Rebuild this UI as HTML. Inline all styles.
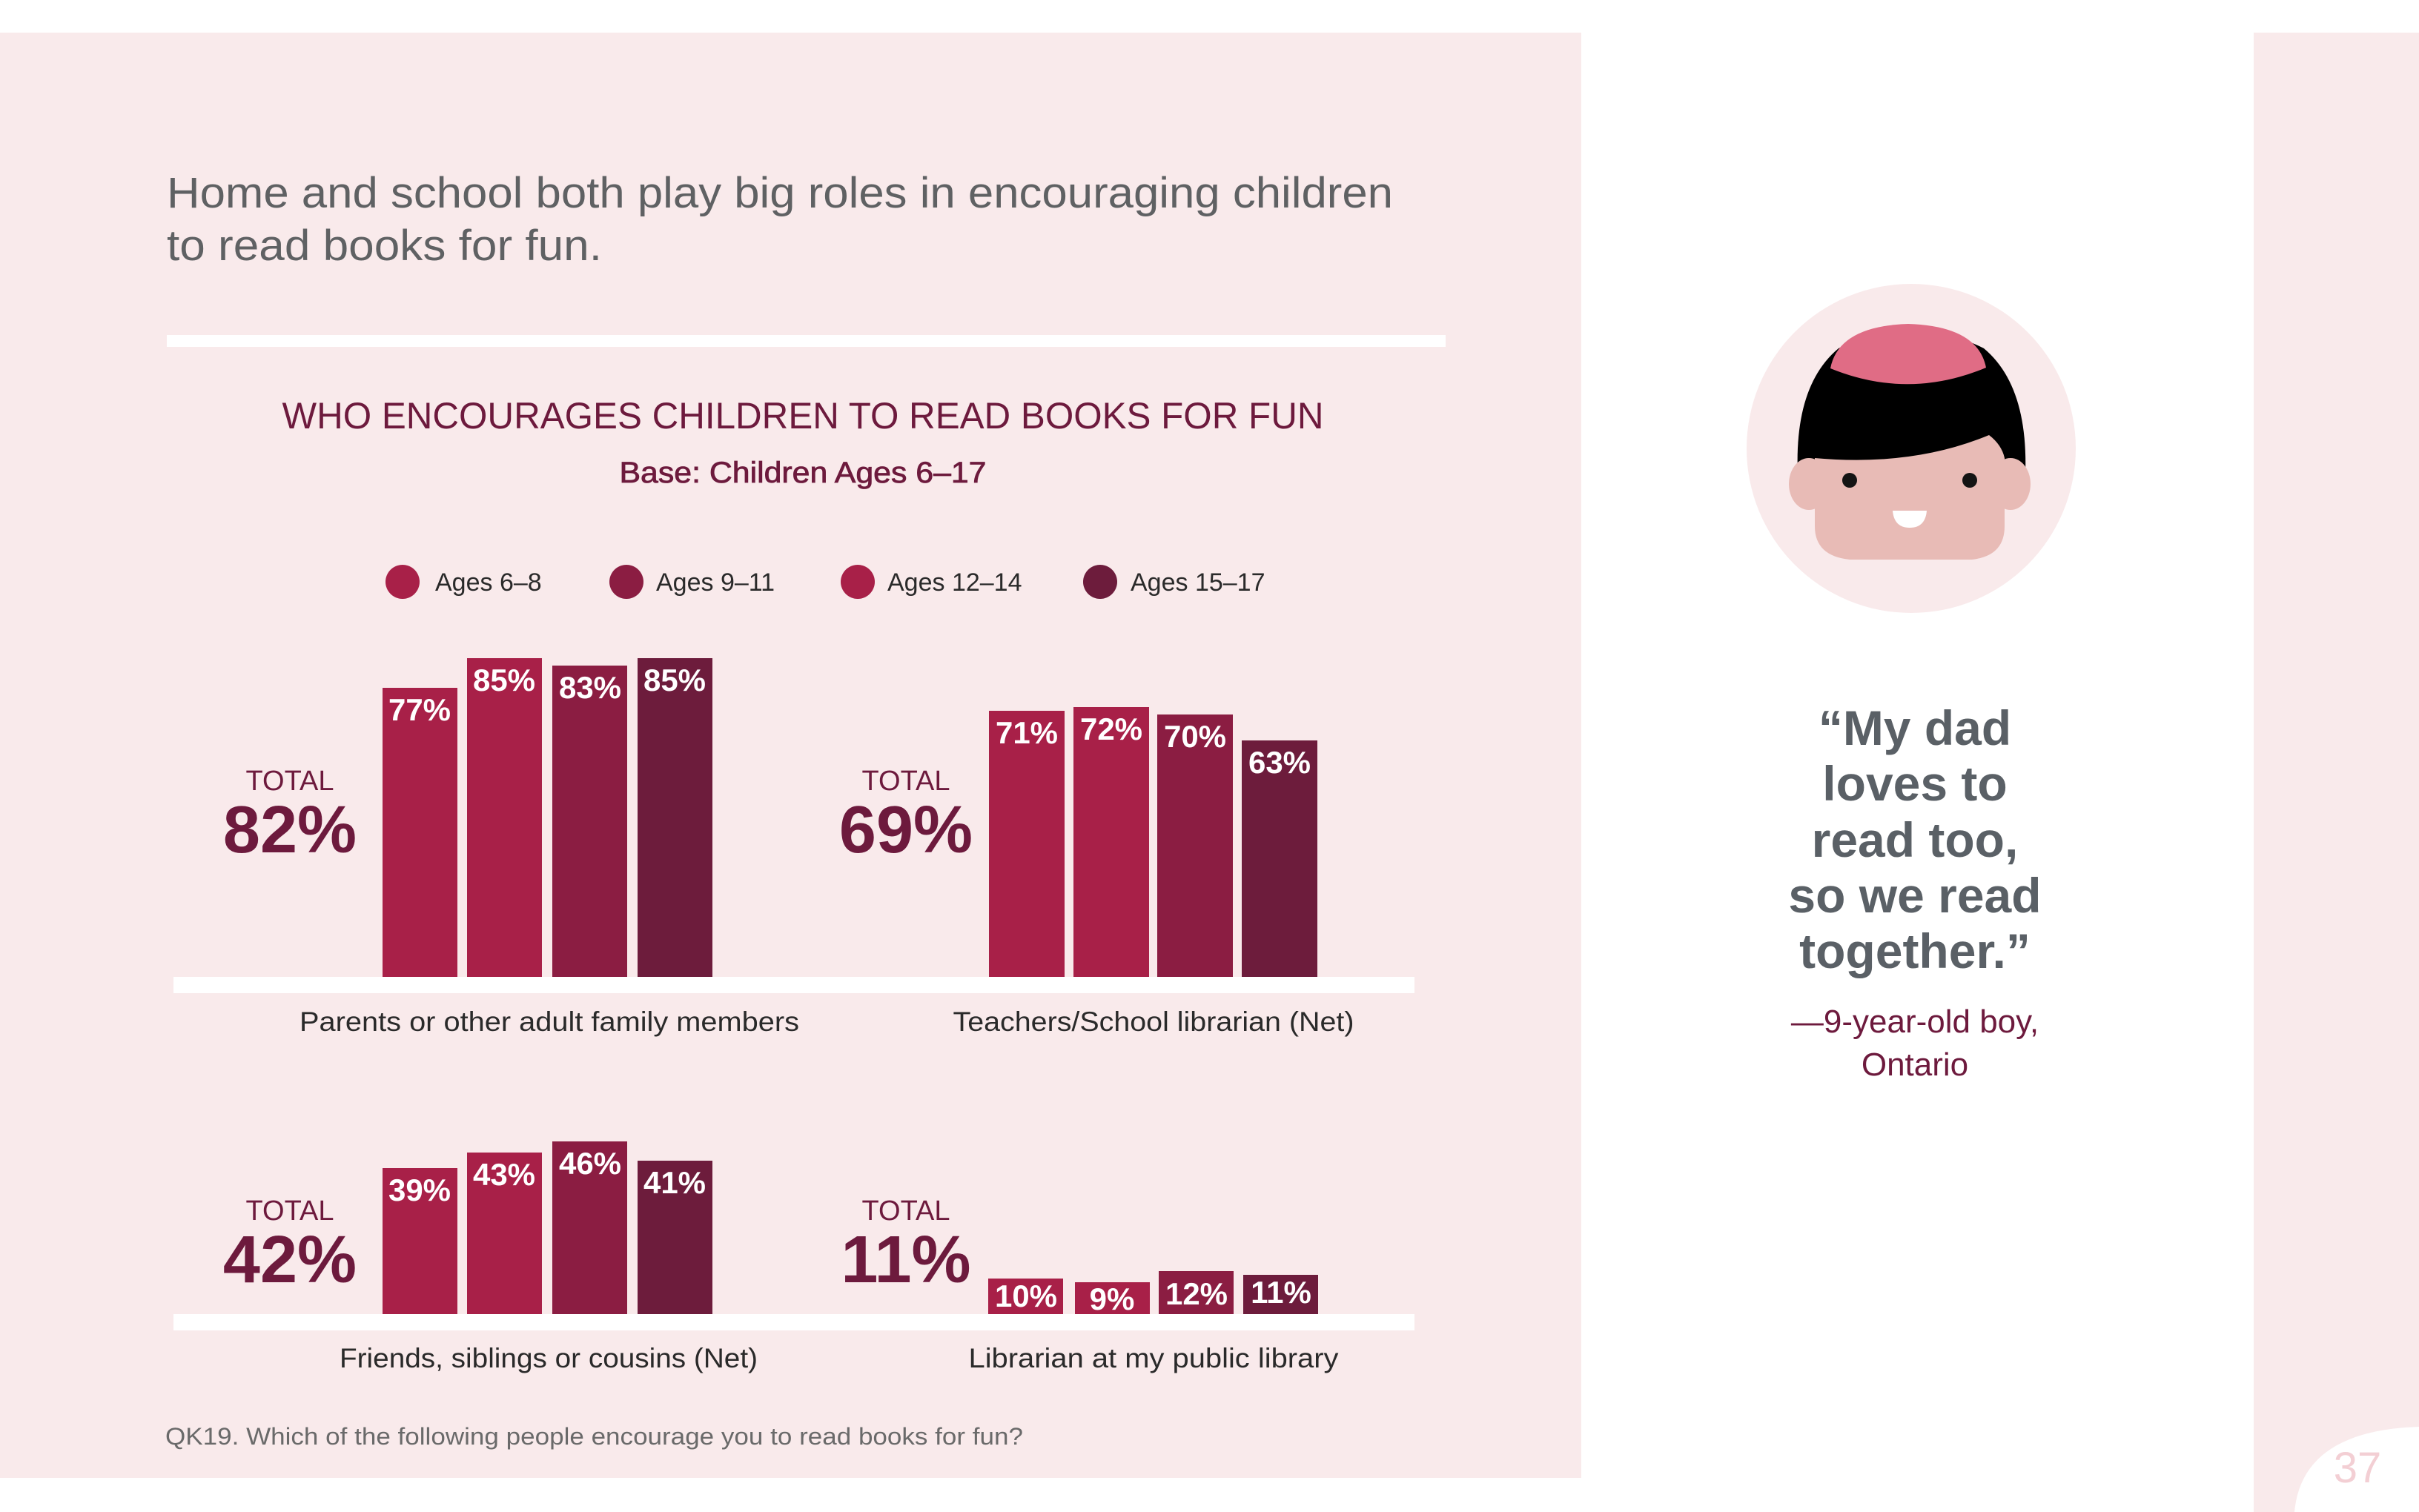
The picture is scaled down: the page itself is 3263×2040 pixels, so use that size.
<!DOCTYPE html>
<html><head><meta charset="utf-8"><style>
html,body{margin:0;padding:0;background:#fff}
svg{display:block}
text{font-family:"Liberation Sans",sans-serif}
</style></head><body>
<svg width="3263" height="2040" viewBox="0 0 3263 2040" xmlns="http://www.w3.org/2000/svg">
<rect width="3263" height="2040" fill="#fff"/>
<rect x="0" y="44" width="2133" height="1950" fill="#f9eaeb"/>
<rect x="3040" y="44" width="223" height="1996" fill="#f9eaeb"/>
<path d="M3095 2040 Q3105 1930 3263 1925 L3263 2040 Z" fill="#fff"/>
<text x="3180" y="2000" font-size="58" fill="#f3cfd4" text-anchor="middle">37</text>

<text x="225" y="280" font-size="58" fill="#5f6163" textLength="1654" lengthAdjust="spacingAndGlyphs">Home and school both play big roles in encouraging children</text>
<text x="225" y="351" font-size="58" fill="#5f6163" textLength="587" lengthAdjust="spacingAndGlyphs">to read books for fun.</text>
<rect x="225" y="452" width="1725" height="16" fill="#fff"/>

<text x="1083" y="578" font-size="50" fill="#6d1a3d" text-anchor="middle" textLength="1405" lengthAdjust="spacingAndGlyphs">WHO ENCOURAGES CHILDREN TO READ BOOKS FOR FUN</text>
<text x="1083" y="651" font-size="40" fill="#6d1a3d" text-anchor="middle" stroke="#6d1a3d" stroke-width="0.8" textLength="495" lengthAdjust="spacingAndGlyphs">Base: Children Ages 6–17</text>

<circle cx="543" cy="785" r="23" fill="#a82048"/><text x="587" y="797" font-size="34" fill="#2a2a2a">Ages 6–8</text>
<circle cx="845" cy="785" r="23" fill="#8b1d42"/><text x="885" y="797" font-size="34" fill="#2a2a2a">Ages 9–11</text>
<circle cx="1157" cy="785" r="23" fill="#a82048"/><text x="1197" y="797" font-size="34" fill="#2a2a2a">Ages 12–14</text>
<circle cx="1484" cy="785" r="23" fill="#6d1c3c"/><text x="1525" y="797" font-size="34" fill="#2a2a2a">Ages 15–17</text>

<rect x="234" y="1318" width="1674" height="22" fill="#fff"/>
<rect x="516" y="928" width="101" height="390" fill="#a82048"/>
<rect x="630" y="888" width="101" height="430" fill="#a82048"/>
<rect x="745" y="898" width="101" height="420" fill="#8b1d42"/>
<rect x="860" y="888" width="101" height="430" fill="#6d1c3c"/>
<g font-size="42" font-weight="bold" fill="#fff" text-anchor="middle">
<text x="566" y="972">77%</text><text x="680" y="932">85%</text><text x="796" y="942">83%</text><text x="910" y="932">85%</text>
</g>
<text x="391" y="1066" font-size="38" fill="#6d1a3d" text-anchor="middle">TOTAL</text>
<text x="391" y="1150" font-size="90" font-weight="bold" fill="#6d1a3d" text-anchor="middle">82%</text>
<text x="741" y="1391" font-size="37" fill="#2a2a2a" text-anchor="middle" textLength="674" lengthAdjust="spacingAndGlyphs">Parents or other adult family members</text>

<rect x="1334" y="959" width="102" height="359" fill="#a82048"/>
<rect x="1448" y="954" width="102" height="364" fill="#a82048"/>
<rect x="1561" y="964" width="102" height="354" fill="#8b1d42"/>
<rect x="1675" y="999" width="102" height="319" fill="#6d1c3c"/>
<g font-size="42" font-weight="bold" fill="#fff" text-anchor="middle">
<text x="1385" y="1003">71%</text><text x="1499" y="998">72%</text><text x="1612" y="1008">70%</text><text x="1726" y="1043">63%</text>
</g>
<text x="1222" y="1066" font-size="38" fill="#6d1a3d" text-anchor="middle">TOTAL</text>
<text x="1222" y="1150" font-size="90" font-weight="bold" fill="#6d1a3d" text-anchor="middle">69%</text>
<text x="1556" y="1391" font-size="37" fill="#2a2a2a" text-anchor="middle" textLength="541" lengthAdjust="spacingAndGlyphs">Teachers/School librarian (Net)</text>

<rect x="234" y="1773" width="1674" height="22" fill="#fff"/>
<rect x="516" y="1576" width="101" height="197" fill="#a82048"/>
<rect x="630" y="1555" width="101" height="218" fill="#a82048"/>
<rect x="745" y="1540" width="101" height="233" fill="#8b1d42"/>
<rect x="860" y="1566" width="101" height="207" fill="#6d1c3c"/>
<g font-size="42" font-weight="bold" fill="#fff" text-anchor="middle">
<text x="566" y="1620">39%</text><text x="680" y="1599">43%</text><text x="796" y="1584">46%</text><text x="910" y="1610">41%</text>
</g>
<text x="391" y="1646" font-size="38" fill="#6d1a3d" text-anchor="middle">TOTAL</text>
<text x="391" y="1730" font-size="90" font-weight="bold" fill="#6d1a3d" text-anchor="middle">42%</text>
<text x="740" y="1845" font-size="37" fill="#2a2a2a" text-anchor="middle" textLength="564" lengthAdjust="spacingAndGlyphs">Friends, siblings or cousins (Net)</text>

<rect x="1333" y="1725" width="101" height="48" fill="#a82048"/>
<rect x="1450" y="1730" width="101" height="43" fill="#a82048"/>
<rect x="1563" y="1715" width="101" height="58" fill="#8b1d42"/>
<rect x="1677" y="1720" width="101" height="53" fill="#6d1c3c"/>
<g font-size="42" font-weight="bold" fill="#fff" text-anchor="middle">
<text x="1384" y="1763">10%</text><text x="1500" y="1767">9%</text><text x="1614" y="1760">12%</text><text x="1728" y="1758">11%</text>
</g>
<text x="1222" y="1646" font-size="38" fill="#6d1a3d" text-anchor="middle">TOTAL</text>
<text x="1222" y="1730" font-size="90" font-weight="bold" fill="#6d1a3d" text-anchor="middle">11%</text>
<text x="1556" y="1845" font-size="37" fill="#2a2a2a" text-anchor="middle" textLength="499" lengthAdjust="spacingAndGlyphs">Librarian at my public library</text>

<text x="223" y="1949" font-size="32" fill="#6a6a6a" textLength="1157" lengthAdjust="spacingAndGlyphs">QK19. Which of the following people encourage you to read books for fun?</text>

<circle cx="2578" cy="605" r="222" fill="#f9eaeb"/>
<path d="M2425 640 Q2420 520 2480 470 Q2578 420 2676 470 Q2736 520 2732 640 Z" fill="#000"/>
<path d="M2469 497 Q2480 440 2574 437 Q2668 440 2679 496 Q2574 540 2469 497 Z" fill="#e06c85"/>
<ellipse cx="2440" cy="653" rx="27" ry="35" fill="#e8bbb6"/>
<ellipse cx="2712" cy="653" rx="27" ry="35" fill="#e8bbb6"/>
<path d="M2448 618 Q2580 630 2683 587 Q2700 600 2704 618 L2704 710 Q2704 750 2660 755 L2495 755 Q2448 750 2448 710 Z" fill="#e8bbb6"/>
<ellipse cx="2495" cy="648" rx="10" ry="10" fill="#141414"/>
<ellipse cx="2657" cy="648" rx="10" ry="10" fill="#141414"/>
<path d="M2553 689 L2599 689 Q2597 712 2576 712 Q2555 712 2553 689 Z" fill="#fff"/>

<g font-size="66" font-weight="bold" fill="#5a6066" text-anchor="middle">
<text x="2583" y="1005">“My dad</text>
<text x="2583" y="1080">loves to</text>
<text x="2583" y="1156">read too,</text>
<text x="2583" y="1231">so we read</text>
<text x="2583" y="1306">together.”</text>
</g>
<text x="2583" y="1393" font-size="44" fill="#6d1a3d" text-anchor="middle">—9-year-old boy,</text>
<text x="2583" y="1451" font-size="44" fill="#6d1a3d" text-anchor="middle">Ontario</text>
</svg>
</body></html>
